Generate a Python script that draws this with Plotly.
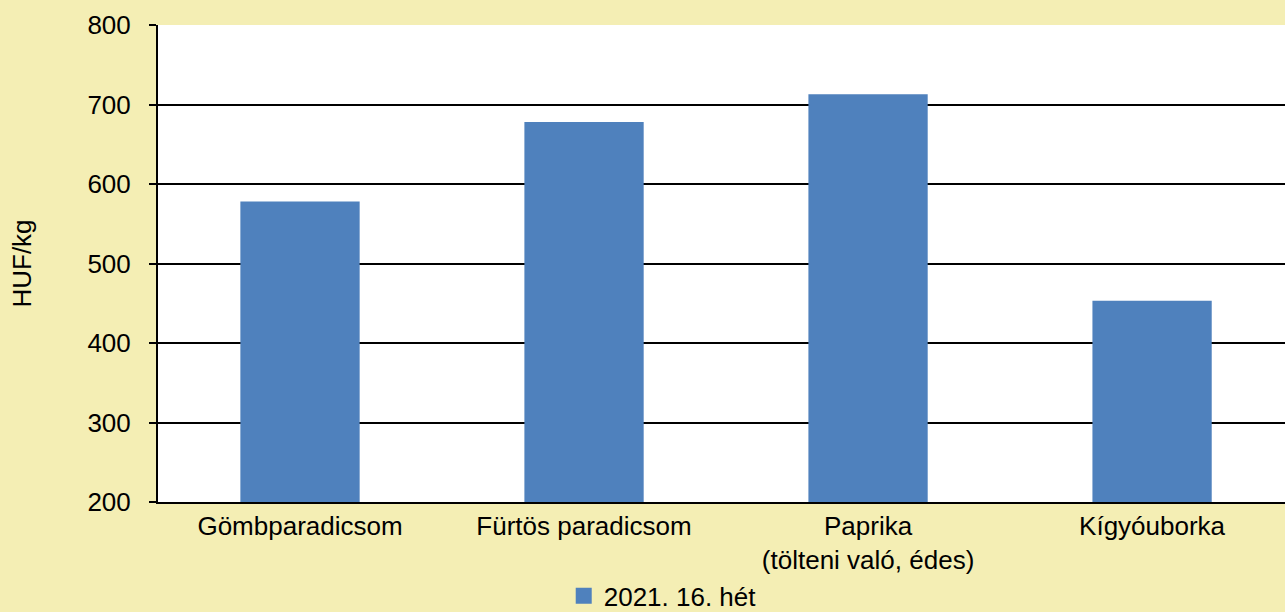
import plotly.graph_objects as go

categories = ["Gömbparadicsom", "Fürtös paradicsom", "Paprika<br>(tölteni való, édes)", "Kígyóuborka"]
values = [578, 678, 713, 453]
series_name = "2021. 16. hét"
y_ticks = [200, 300, 400, 500, 600, 700, 800]

BG = "#F4EEB4"
BAR = "#4F81BD"
FONT = "Liberation Sans, Arial, sans-serif"

fig = go.Figure()
fig.add_trace(go.Bar(
    x=categories, y=values, name=series_name,
    marker=dict(color=BAR, line=dict(width=0)),
    width=0.42, showlegend=False,
))
# legend entry (square swatch)
fig.add_trace(go.Scatter(
    x=[None], y=[None], mode="markers", name=series_name,
    marker=dict(symbol="square", size=18, color=BAR), showlegend=True,
))

fig.update_layout(
    width=1285, height=612,
    margin=dict(l=158, r=0, t=25, b=110, autoexpand=False),
    paper_bgcolor=BG, plot_bgcolor="white",
    font=dict(family=FONT, size=26, color="black"),
    showlegend=True,
    legend=dict(orientation="h", x=0.36, xanchor="left", y=-0.197, yanchor="middle",
                bgcolor="rgba(0,0,0,0)", font=dict(size=26), itemwidth=30),
    xaxis=dict(range=[-0.5, 3.468], showgrid=False, showline=True, linecolor="black",
               linewidth=2, ticks="", tickfont=dict(size=26), fixedrange=True),
    yaxis=dict(range=[200, 800], tickvals=y_ticks, showgrid=True, gridcolor="black",
               gridwidth=2, showline=True, linecolor="black", linewidth=2,
               ticks="outside", ticklen=7, tickwidth=2, tickcolor="black",
               tickfont=dict(size=26), zeroline=False, ticklabelstandoff=13,
               title=dict(text="HUF/kg", font=dict(size=26), standoff=48)),
)

fig.write_html("out.html", config={"displayModeBar": False},
               post_script="document.body.style.margin='0';")
